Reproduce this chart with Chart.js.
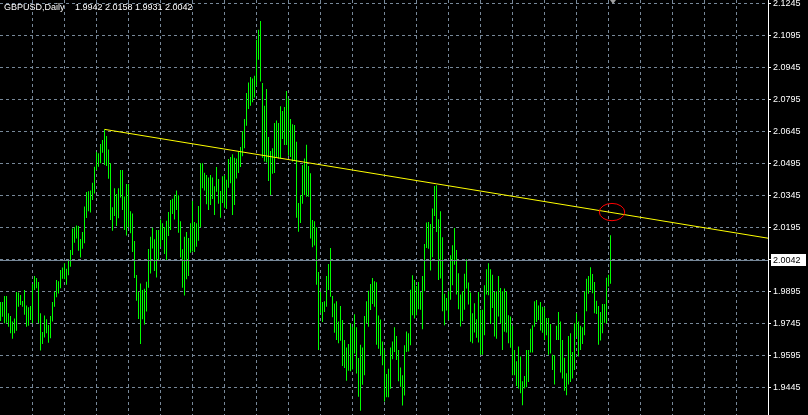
<!DOCTYPE html>
<html><head><meta charset="utf-8">
<script src="https://cdn.jsdelivr.net/npm/chart.js@4.4.0/dist/chart.umd.min.js"></script>
<style>html,body{margin:0;padding:0;background:#000;overflow:hidden}#wrap{width:808px;height:415px;position:relative}</style>
</head><body><div id="wrap"><canvas id="c"></canvas></div>
<script>
const symbolTitle = "GBPUSD,Daily";
const lastOHLC = ["1.9942", "2.0158", "1.9931", "2.0042"];
const highs = [
1.9845,1.9845,1.9873,1.9873,1.9792,1.9779,1.9754,1.9768,1.9892,1.9889,
1.9878,1.9850,1.9901,1.9829,1.9820,1.9826,1.9929,1.9967,1.9957,1.9939,
1.9792,1.9704,1.9782,1.9764,1.9737,1.9779,1.9845,1.9893,1.9948,1.9942,
1.9995,2.0007,2.0026,2.0001,2.0042,2.0089,2.0189,2.0195,2.0204,2.0201,
2.0140,2.0173,2.0292,2.0360,2.0364,2.0367,2.0404,2.0479,2.0548,2.0542,
2.0585,2.0604,2.0654,2.0623,2.0560,2.0495,2.0289,2.0378,2.0351,2.0378,
2.0464,2.0464,2.0339,2.0398,2.0398,2.0270,2.0260,2.0131,1.9971,1.9892,
1.9932,1.9901,1.9907,1.9940,2.0093,2.0151,2.0193,2.0139,2.0182,2.0182,
2.0232,2.0214,2.0195,2.0226,2.0267,2.0323,2.0329,2.0348,2.0367,2.0345,
2.0223,2.0092,2.0151,2.0173,2.0145,2.0214,2.0318,2.0220,2.0214,2.0295,
2.0495,2.0495,2.0451,2.0440,2.0428,2.0440,2.0428,2.0387,2.0478,2.0421,
2.0365,2.0434,2.0440,2.0418,2.0515,2.0524,2.0537,2.0521,2.0518,2.0549,
2.0571,2.0646,2.0703,2.0824,2.0874,2.0899,2.0893,2.0906,2.1074,2.1121,
2.1162,2.0871,2.0765,2.0843,2.0618,2.0553,2.0565,2.0684,2.0696,2.0684,
2.0762,2.0740,2.0759,2.0834,2.0799,2.0703,2.0678,2.0674,2.0596,2.0309,
2.0346,2.0487,2.0518,2.0582,2.0482,2.0448,2.0229,2.0223,2.0195,1.9985,
1.9892,1.9845,1.9848,1.9967,2.0023,2.0098,1.9873,1.9838,1.9848,1.9754,
1.9826,1.9760,1.9667,1.9632,1.9648,1.9745,1.9729,1.9788,1.9726,1.9582,
1.9645,1.9632,1.9779,1.9848,1.9898,1.9929,1.9957,1.9942,1.9938,1.9782,
1.9763,1.9660,1.9620,1.9507,1.9532,1.9632,1.9660,1.9726,1.9685,1.9620,
1.9538,1.9501,1.9642,1.9707,1.9698,1.9902,1.9970,1.9948,1.9920,1.9939,
1.9892,1.9967,2.0117,2.0217,2.0220,2.0211,2.0283,2.0389,2.0392,2.0233,
2.0270,2.0148,1.9883,1.9864,1.9895,2.0064,2.0111,2.0192,2.0089,1.9980,
1.9880,1.9895,1.9977,2.0045,1.9936,1.9889,1.9792,1.9839,1.9764,1.9892,
1.9808,1.9808,1.9923,1.9998,2.0027,1.9998,1.9973,1.9892,1.9895,1.9967,
1.9911,1.9895,1.9908,1.9895,1.9783,1.9777,1.9733,1.9620,1.9567,1.9636,
1.9589,1.9473,1.9498,1.9620,1.9620,1.9720,1.9736,1.9848,1.9854,1.9829,
1.9845,1.9823,1.9820,1.9770,1.9770,1.9742,1.9598,1.9595,1.9733,1.9798,
1.9754,1.9667,1.9583,1.9511,1.9686,1.9698,1.9611,1.9745,1.9792,1.9754,
1.9733,1.9726,1.9895,1.9954,1.9967,2.0008,1.9976,1.9939,1.9851,1.9826,
1.9798,1.9836,1.9836,1.9958,1.9973,2.0158
];
const lows = [
1.9756,1.9776,1.9745,1.9748,1.9729,1.9698,1.9673,1.9698,1.9710,1.9823,
1.9831,1.9823,1.9785,1.9729,1.9734,1.9760,1.9745,1.9901,1.9909,1.9745,
1.9617,1.9648,1.9679,1.9698,1.9654,1.9675,1.9753,1.9823,1.9867,1.9885,
1.9909,1.9954,1.9951,1.9926,1.9970,2.0010,2.0065,2.0123,2.0143,2.0085,
2.0054,2.0095,2.0120,2.0239,2.0270,2.0264,2.0323,2.0354,2.0464,2.0479,
2.0495,2.0545,2.0487,2.0482,2.0423,2.0229,2.0179,2.0248,2.0201,2.0237,
2.0335,2.0276,2.0182,2.0157,2.0195,2.0167,2.0079,1.9957,1.9851,1.9765,
1.9648,1.9764,1.9739,1.9800,1.9912,1.9979,2.0096,1.9990,1.9960,2.0039,
2.0104,2.0135,2.0070,2.0039,2.0154,2.0182,2.0257,2.0232,2.0276,2.0170,
2.0054,1.9912,1.9875,1.9951,1.9967,2.0076,2.0082,2.0079,2.0104,2.0132,
2.0195,2.0378,2.0367,2.0303,2.0276,2.0299,2.0328,2.0253,2.0362,2.0306,
2.0240,2.0309,2.0287,2.0281,2.0381,2.0401,2.0253,2.0299,2.0424,2.0449,
2.0478,2.0528,2.0565,2.0671,2.0749,2.0765,2.0781,2.0803,2.0859,2.0981,
2.0878,2.0521,2.0503,2.0499,2.0412,2.0346,2.0446,2.0449,2.0524,2.0518,
2.0518,2.0609,2.0581,2.0581,2.0531,2.0524,2.0503,2.0509,2.0240,2.0174,
2.0215,2.0306,2.0346,2.0338,2.0338,2.0142,2.0101,2.0110,1.9926,1.9620,
1.9795,1.9751,1.9798,1.9823,1.9901,1.9870,1.9773,1.9701,1.9667,1.9651,
1.9663,1.9545,1.9535,1.9476,1.9523,1.9520,1.9529,1.9604,1.9510,1.9401,
1.9335,1.9457,1.9501,1.9745,1.9729,1.9807,1.9835,1.9823,1.9645,1.9626,
1.9595,1.9548,1.9379,1.9398,1.9398,1.9438,1.9576,1.9610,1.9573,1.9473,
1.9448,1.9360,1.9407,1.9610,1.9613,1.9642,1.9783,1.9767,1.9783,1.9811,
1.9808,1.9717,1.9895,2.0098,2.0095,1.9992,2.0055,2.0248,2.0173,1.9948,
1.9955,1.9802,1.9736,1.9805,1.9761,1.9855,1.9923,2.0020,1.9880,1.9811,
1.9730,1.9755,1.9808,1.9908,1.9833,1.9658,1.9652,1.9702,1.9677,1.9655,
1.9598,1.9598,1.9689,1.9880,1.9877,1.9742,1.9817,1.9683,1.9673,1.9777,
1.9745,1.9620,1.9705,1.9702,1.9652,1.9630,1.9501,1.9501,1.9451,1.9439,
1.9417,1.9361,1.9439,1.9445,1.9470,1.9608,1.9608,1.9729,1.9751,1.9761,
1.9711,1.9701,1.9667,1.9689,1.9598,1.9604,1.9526,1.9458,1.9667,1.9667,
1.9514,1.9486,1.9429,1.9408,1.9458,1.9470,1.9486,1.9526,1.9683,1.9589,
1.9620,1.9648,1.9689,1.9801,1.9883,1.9901,1.9886,1.9792,1.9789,1.9645,
1.9664,1.9698,1.9748,1.9745,1.9917,1.9931
];
const priceTicks = [1.9445,1.9595,1.9745,1.9895,2.0045,2.0195,2.0345,2.0495,2.0645,2.0795,2.0945,2.1095,2.1245];
const lastPrice = 2.0042;
const trendLine = [[52, 2.0654], [383.75, 2.0144]];
const ellipseBox = [299.4, 2.0307, 312.1, 2.0226];

const Y_MIN = 1.93152, Y_MAX = 2.12605;
const X_MIN = -0.25, X_MAX = 383.75;
const GRID = '#778899';
const FONT = 'Liberation Sans, Arial, sans-serif';

const overlay = {
  id: 'overlay',
  afterDatasetsDraw(chart) {
    const ctx = chart.ctx, xs = chart.scales.x, ys = chart.scales.y, a = chart.chartArea;
    ctx.save();
    const py = Math.round(ys.getPixelForValue(lastPrice)) + 0.5;
    ctx.strokeStyle = GRID; ctx.lineWidth = 1; ctx.setLineDash([]);
    ctx.beginPath(); ctx.moveTo(a.left, py); ctx.lineTo(a.right, py); ctx.stroke();
    const x1 = xs.getPixelForValue(ellipseBox[0]), y1 = ys.getPixelForValue(ellipseBox[1]);
    const x2 = xs.getPixelForValue(ellipseBox[2]), y2 = ys.getPixelForValue(ellipseBox[3]);
    ctx.strokeStyle = '#ff0000';
    ctx.beginPath();
    ctx.ellipse((x1 + x2) / 2, (y1 + y2) / 2, Math.abs(x2 - x1) / 2, Math.abs(y2 - y1) / 2, 0, 0, Math.PI * 2);
    ctx.stroke();
    ctx.restore();
  },
  afterDraw(chart) {
    const ctx = chart.ctx, xs = chart.scales.x, ys = chart.scales.y, a = chart.chartArea;
    ctx.save();
    ctx.fillStyle = '#ffffff';
    ctx.fillRect(a.right, 0, 1, chart.height);
    const py = ys.getPixelForValue(lastPrice);
    ctx.fillStyle = '#ffffff';
    ctx.fillRect(a.right + 3, Math.round(py) - 6, 35, 12);
    ctx.fillStyle = '#000000';
    ctx.font = '9px ' + FONT;
    ctx.textBaseline = 'middle';
    ctx.textAlign = 'left';
    ctx.fillText(lastPrice.toFixed(4), a.right + 5, Math.round(py) + 0.5);
    ctx.fillStyle = '#ffffff';
    ctx.textBaseline = 'alphabetic';
    ctx.fillText(symbolTitle, 4, 10);
    ctx.fillText(lastOHLC.join(' '), 75, 10);
    const mx = Math.round(xs.getPixelForValue(highs.length - 1)) + 2;
    ctx.fillStyle = '#a0a0a0';
    ctx.beginPath(); ctx.moveTo(mx - 3, 0); ctx.lineTo(mx + 3, 0); ctx.lineTo(mx, 4); ctx.closePath(); ctx.fill();
    ctx.restore();
  }
};

const barData = highs.map((h, i) => ({ x: i, y: [lows[i], h] }));
const noPad = s => { s.paddingTop = 0; s.paddingBottom = 0; s.paddingLeft = 0; s.paddingRight = 0; };

new Chart(document.getElementById('c'), {
  data: {
    datasets: [
      { type: 'bar', data: barData, backgroundColor: '#00ff00', borderWidth: 0, barThickness: 1, inflateAmount: 0, grouped: false, order: 2 },
      { type: 'line', data: trendLine.map(p => ({ x: p[0], y: p[1] })), borderColor: '#ffff00', borderWidth: 1, pointRadius: 0, fill: false, order: 1 }
    ]
  },
  options: {
    responsive: true, maintainAspectRatio: false, animation: false,
    layout: { padding: 0, autoPadding: false },
    plugins: { legend: { display: false }, tooltip: { enabled: false } },
    scales: {
      x: {
        type: 'linear', min: X_MIN, max: X_MAX, offset: false,
        afterBuildTicks: s => { const t = []; for (let v = 16 + X_MIN; v < X_MAX - 1; v += 16) t.push({ value: v }); s.ticks = t; },
        ticks: { display: false },
        grid: { color: GRID, drawTicks: false, lineWidth: 1, offset: false },
        border: { display: false, dash: [3, 3] },
        afterFit: s => { s.height = 0; noPad(s); }
      },
      y: {
        type: 'linear', position: 'right', min: Y_MIN, max: Y_MAX,
        afterBuildTicks: s => { s.ticks = priceTicks.map(v => ({ value: v })); },
        ticks: { color: '#ffffff', font: { family: FONT, size: 9 }, padding: 2, autoSkip: false, callback: v => Number(v).toFixed(4) },
        grid: { color: GRID, tickColor: '#ffffff', tickLength: 3, lineWidth: 1, offset: false },
        border: { display: false, dash: [3, 3] },
        afterFit: s => { s.width = 40; noPad(s); }
      }
    }
  },
  plugins: [overlay]
});
</script>
</body></html>
